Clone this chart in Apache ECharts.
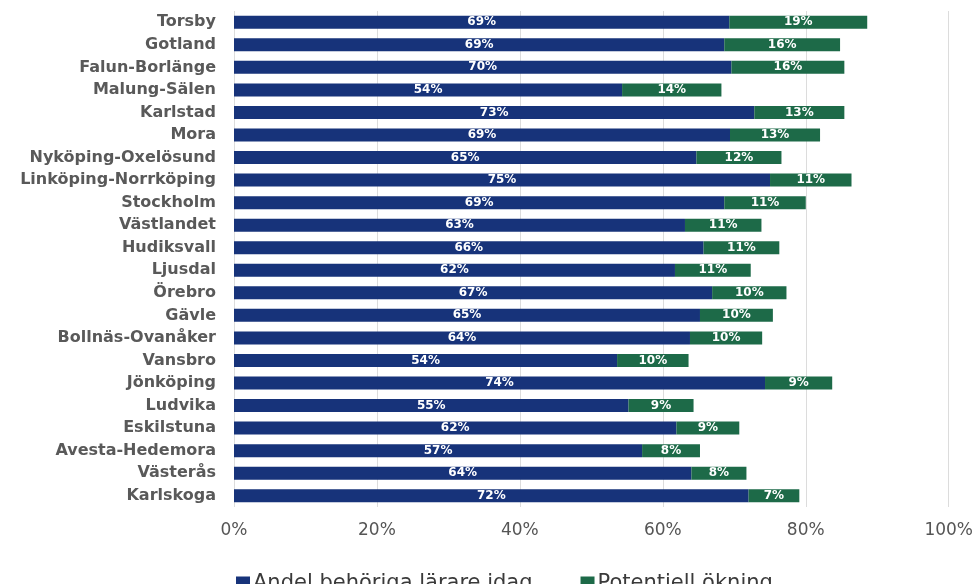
<!DOCTYPE html>
<html>
<head>
<meta charset="utf-8">
<script src="https://cdn.jsdelivr.net/npm/echarts@6/dist/echarts.min.js"></script>
<style>
html,body{margin:0;padding:0;background:#fff;}
#main{width:976px;height:584px;}
</style>
</head>
<body>
<div id="main"></div>
<script>
// kommuner / regioner, uppifrån och ned
const regions = ['Torsby','Gotland','Falun-Borlänge','Malung-Sälen','Karlstad','Mora',
    'Nyköping-Oxelösund','Linköping-Norrköping','Stockholm','Västlandet','Hudiksvall',
    'Ljusdal','Örebro','Gävle','Bollnäs-Ovanåker','Vansbro','Jönköping','Ludvika',
    'Eskilstuna','Avesta-Hedemora','Västerås','Karlskoga'];
// andel behöriga lärare idag (%)
const todayShare = [69.3,68.6,69.6,54.3,72.8,69.4,64.7,75.0,68.6,63.1,65.7,
    61.7,66.9,65.2,63.8,53.6,74.3,55.2,61.9,57.1,64.0,72.0];
// potentiell ökning (%)
const potentialIncrease = [19.3,16.2,15.8,13.9,12.6,12.6,11.9,11.4,11.4,10.7,10.6,
    10.6,10.4,10.2,10.1,10.0,9.4,9.1,8.8,8.1,7.7,7.1];
const xTicks = [0,20,40,60,80,100];

const NAVY = '#17337a';
const GREEN = '#1d6a48';
const font = 'DejaVu Sans';

let chart = echarts.init(document.getElementById('main'));

const barLabel = {
    show: true,
    position: 'inside',
    color: '#fff',
    fontFamily: font,
    fontWeight: 'bold',
    fontSize: 12,
    formatter: p => Math.round(p.value) + '%'
};

chart.setOption({
    animation: false,
    grid: {
        left: 234,
        right: 27,
        top: 11,
        bottom: 77
    },
    legend: {
        left: 231,
        top: 568,
        icon: 'rect',
        itemWidth: 14,
        itemHeight: 14,
        itemGap: 48,
        textStyle: {
            fontFamily: font,
            fontSize: 21,
            color: '#3a3a3a',
            padding: [0, 0, 0, -2]
        },
        data: ['Andel behöriga lärare idag', 'Potentiell ökning']
    },
    xAxis: {
        type: 'value',
        min: xTicks[0],
        max: xTicks[xTicks.length - 1],
        interval: 20,
        axisLine: {show: false},
        axisTick: {show: false},
        splitLine: {
            lineStyle: {color: '#dcdcdc', width: 1}
        },
        axisLabel: {
            margin: 15,
            fontFamily: font,
            fontSize: 17,
            color: '#555',
            formatter: '{value}%'
        }
    },
    yAxis: {
        type: 'category',
        inverse: true,
        data: regions,
        axisLine: {show: false},
        axisTick: {show: false},
        axisLabel: {
            margin: 18,
            fontFamily: font,
            fontWeight: 'bold',
            fontSize: 16,
            color: '#595959'
        }
    },
    series: [
        {
            name: 'Andel behöriga lärare idag',
            type: 'bar',
            stack: 'total',
            barWidth: 13,
            itemStyle: {color: NAVY},
            label: barLabel,
            data: todayShare
        },
        {
            name: 'Potentiell ökning',
            type: 'bar',
            stack: 'total',
            barWidth: 13,
            itemStyle: {color: GREEN},
            label: barLabel,
            data: potentialIncrease
        }
    ]
});
</script>
</body>
</html>
